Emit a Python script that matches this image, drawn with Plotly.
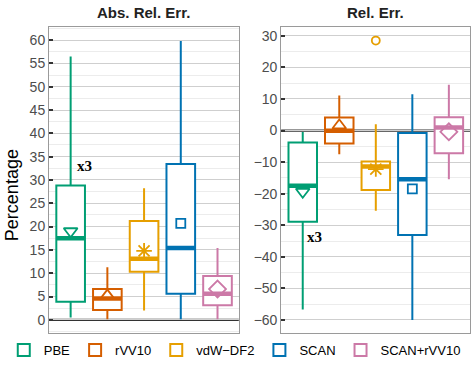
import plotly.graph_objects as go

methods = ["PBE", "rVV10", "vdW−DF2", "SCAN", "SCAN+rVV10"]
colors = ["#009E73", "#D55E00", "#E69F00", "#0072B2", "#CC79A7"]
mean_symbols = ["triangle-down-open", "triangle-up-open", "asterisk-open",
                "square-open", "diamond-open"]
mean_sizes = [12, 12, 13, 9, 13]

# Abs. Rel. Err. (left panel)
abs_low = [0.5, 0.1, 2.0, 0.1, 0.1]
abs_q1 = [3.9, 2.1, 10.3, 5.6, 3.1]
abs_med = [17.5, 4.6, 13.1, 15.4, 5.6]
abs_q3 = [28.8, 6.6, 21.2, 33.4, 9.4]
abs_high = [56.5, 11.3, 28.2, 59.8, 15.4]
abs_mean = [19.0, 5.2, 14.8, 20.7, 6.6]

# Rel. Err. (right panel)
rel_low = [-56.7, -7.5, -25.4, -60.0, -15.4]
rel_q1 = [-28.9, -4.1, -18.8, -33.1, -7.2]
rel_med = [-17.5, -0.1, -11.4, -15.4, 1.0]
rel_q3 = [-3.8, 4.1, -9.8, -0.8, 4.2]
rel_high = [-0.5, 11.1, 2.0, 11.5, 14.5]
rel_mean = [-19.4, 1.6, -12.2, -18.5, -0.4]
rel_outlier_x = [3]
rel_outlier_y = [28.5]

# "x3" notes (three points off the chart)
note_text = ["x3", "x3"]
note_x = [1.39, 1.31]
note_y = [33.0, -33.8]

pos = [1, 2, 3, 4, 5]
box_w = 0.78

fig = go.Figure()


def add_panel(low, q1, med, q3, high, mean, xa, ya, legend):
    for i, m in enumerate(methods):
        fig.add_trace(go.Box(
            x=[pos[i]], q1=[q1[i]], median=[med[i]], q3=[q3[i]],
            lowerfence=[low[i]], upperfence=[high[i]],
            width=box_w, whiskerwidth=0, name=m, legendgroup=m,
            line=dict(color=colors[i], width=2), fillcolor="white",
            showlegend=legend, xaxis=xa, yaxis=ya, hoverinfo="skip",
        ))
        # thick median bar
        fig.add_trace(go.Scatter(
            x=[pos[i] - box_w / 2, pos[i] + box_w / 2], y=[med[i], med[i]],
            mode="lines", line=dict(color=colors[i], width=4.5),
            showlegend=False, xaxis=xa, yaxis=ya, hoverinfo="skip",
        ))
        fig.add_trace(go.Scatter(
            x=[pos[i]], y=[mean[i]], mode="markers",
            marker=dict(symbol=mean_symbols[i], size=mean_sizes[i], color=colors[i],
                        line=dict(color=colors[i], width=1.8)),
            showlegend=False, xaxis=xa, yaxis=ya, hoverinfo="skip",
        ))


add_panel(abs_low, abs_q1, abs_med, abs_q3, abs_high, abs_mean, "x", "y", True)
add_panel(rel_low, rel_q1, rel_med, rel_q3, rel_high, rel_mean, "x2", "y2", False)

fig.add_trace(go.Scatter(
    x=rel_outlier_x, y=rel_outlier_y, mode="markers",
    marker=dict(symbol="circle-open", size=8, color=colors[2], line=dict(width=1.8)),
    showlegend=False, xaxis="x2", yaxis="y2", hoverinfo="skip",
))

for xa, ya, nx, ny, t in zip(["x", "x2"], ["y", "y2"], note_x, note_y, note_text):
    fig.add_annotation(x=nx, y=ny, xref=xa, yref=ya, text="<b>" + t + "</b>",
                       showarrow=False,
                       font=dict(family="Liberation Serif", size=15, color="black"))

# zero lines
fig.add_shape(type="line", xref="x domain", yref="y", x0=0, x1=1, y0=0, y1=0,
              line=dict(color="#333333", width=2.2), layer="below")
fig.add_shape(type="line", xref="x2 domain", yref="y2", x0=0, x1=1, y0=0, y1=0,
              line=dict(color="#333333", width=2.2), layer="below")

axis_common = dict(showline=True, mirror=True, linecolor="#9a9a9a", linewidth=1,
                   zeroline=False)
xaxis_common = dict(axis_common, range=[0.41, 5.58], showticklabels=False,
                    showgrid=False, ticks="")
yaxis_common = dict(axis_common, showgrid=True, gridcolor="#cfcfcf", gridwidth=1,
                    ticks="inside", ticklen=4, tickwidth=1.5, tickcolor="#333333",
                    tickfont=dict(family="Liberation Sans", size=14, color="#4d4d4d"),
                    minor=dict(showgrid=True, gridcolor="#ececec", gridwidth=1))

fig.update_layout(
    width=471, height=365,
    margin=dict(l=0, r=0, t=0, b=0, autoexpand=False),
    paper_bgcolor="white", plot_bgcolor="white",
    font=dict(family="Liberation Sans"),
    xaxis=dict(xaxis_common, domain=[0.104, 0.507], anchor="y"),
    yaxis=dict(yaxis_common, domain=[0.088, 0.926], anchor="x",
               range=[-2.8, 62.8], dtick=5, minor_dtick=2.5),
    xaxis2=dict(xaxis_common, domain=[0.597, 0.998], anchor="y2"),
    yaxis2=dict(yaxis_common, domain=[0.088, 0.926], anchor="x2",
                range=[-64.1, 32.8], dtick=10, minor_dtick=5),
    legend=dict(orientation="h", x=0.008, xanchor="left", y=0.041, yanchor="middle",
                font=dict(size=13, color="black"), itemwidth=30,
                tracegroupgap=0, bgcolor="rgba(0,0,0,0)"),
    showlegend=True,
)

fig.add_annotation(x=0.5, y=1.0, xref="x domain", yref="paper", yanchor="middle",
                   yshift=-12, text="<b>Abs. Rel. Err.</b>", showarrow=False,
                   font=dict(size=15, color="#222222"))
fig.add_annotation(x=0.5, y=1.0, xref="x2 domain", yref="paper", yanchor="middle",
                   yshift=-12, text="<b>Rel. Err.</b>", showarrow=False,
                   font=dict(size=15, color="#222222"))
# y-axis title shared by the panel
fig.add_annotation(x=0.026, y=0.466, xref="paper", yref="paper", textangle=-90,
                   xanchor="center", yanchor="middle",
                   text="Percentage", showarrow=False,
                   font=dict(size=18, color="black"))

# drop the browser's default page margin so the figure sits at the window corner
fig.write_html("out.html", config={"displayModeBar": False},
               post_script="document.body.style.margin='0px';")
